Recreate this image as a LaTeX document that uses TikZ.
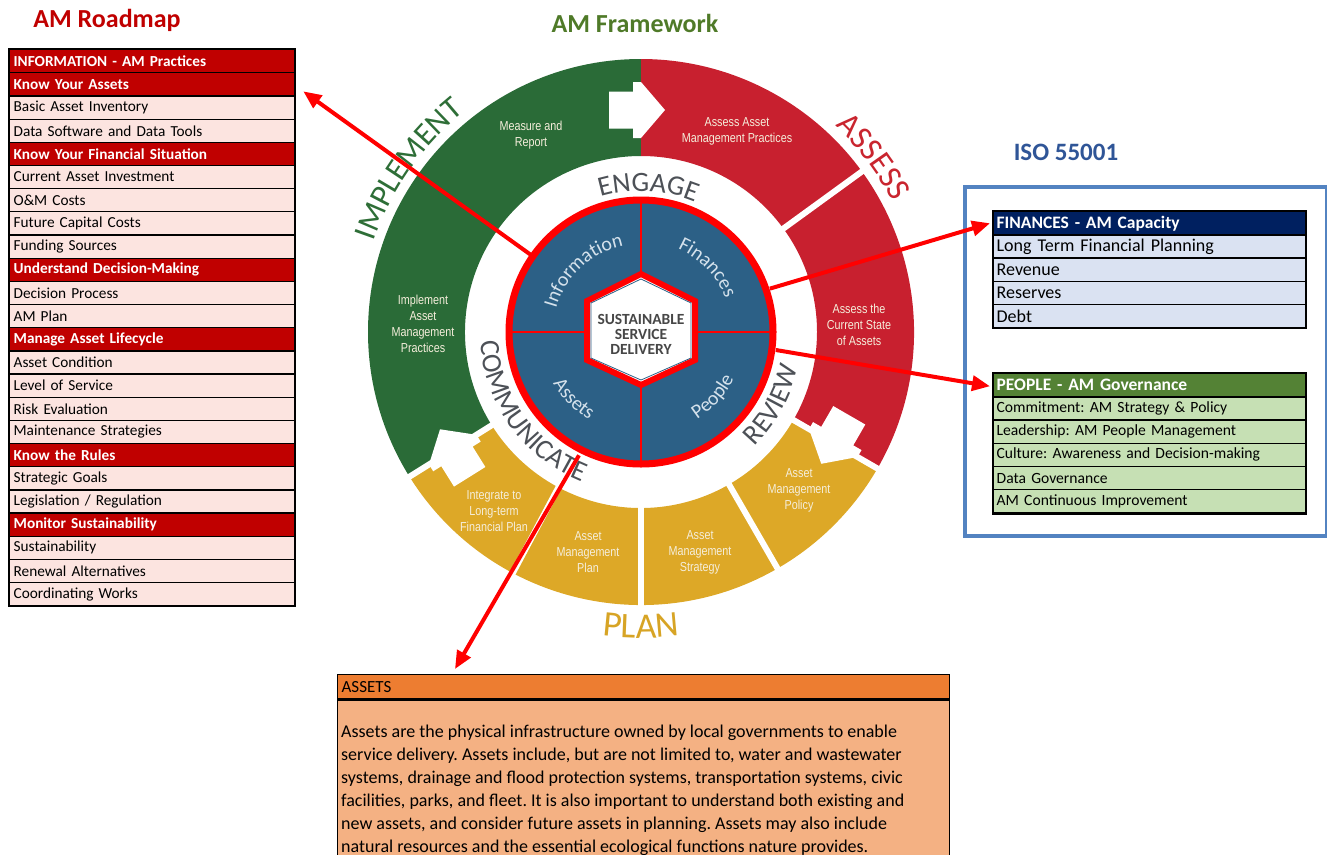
\documentclass[tikz,border=0pt]{standalone}
\usepackage{fontspec}
\setmainfont{Carlito}
\newfontfamily\narrowfont{Liberation Sans}[FakeStretch=0.83]
\usetikzlibrary{arrows.meta,calc,decorations.text}
\frenchspacing

\definecolor{wgreen}{HTML}{2A6B37}
\definecolor{wred}{HTML}{C8202F}
\definecolor{wyellow}{HTML}{DDA827}
\definecolor{wblue}{HTML}{2C6086}
\definecolor{ringgray}{HTML}{4D5157}
\definecolor{impgreen}{HTML}{2E6E37}
\definecolor{assred}{HTML}{C9252F}
\definecolor{plangold}{HTML}{D7A425}
\definecolor{segtext}{HTML}{F5EEDB}
\definecolor{quadtext}{HTML}{D5E2EC}
\definecolor{ssdtext}{HTML}{474747}
\definecolor{roadhead}{HTML}{C00000}
\definecolor{roaditem}{HTML}{FCE4E0}
\definecolor{finhead}{HTML}{002060}
\definecolor{finitem}{HTML}{DAE2F2}
\definecolor{peohead}{HTML}{548235}
\definecolor{peoitem}{HTML}{C6E0B4}
\definecolor{isoblue}{HTML}{5383C1}
\definecolor{isotitle}{HTML}{2F5597}
\definecolor{asshead}{HTML}{ED7D31}
\definecolor{assbody}{HTML}{F4B183}
\definecolor{roadtitle}{HTML}{C00000}
\definecolor{frametitle}{HTML}{4F7A28}

\newcommand\ringfont{\fontsize{28}{30}\selectfont}
\newcommand\phasefont{\fontsize{32}{34}\selectfont}
\newcommand\quadfont{\fontsize{20}{22}\selectfont}

\begin{document}
\begin{tikzpicture}[x=1pt,y=1pt,
  tcell/.style={draw=black, line width=1.3pt, anchor=north west,
    minimum height=23.17pt, inner ysep=0pt, align=left},
  cellL/.style={tcell, minimum width=285pt, text width=277pt, inner xsep=4pt},
  cellR/.style={tcell, minimum width=312pt, text width=306pt, inner xsep=3pt, minimum height=23.2pt},
  seglabel/.style={text=segtext, font=\narrowfont\fontsize{13}{16}\selectfont,
    align=center, inner sep=0pt},
  arctext/.style n args={3}{decorate, decoration={text along path,
    text align=center, text={|#1\color{#2}|#3}}},
  redarrow/.style={draw=red, line width=4pt,
    -{Triangle[length=18pt,width=15pt]}},
  whitearrow/.style={fill=white},
  ttl/.style={font=\fontsize{26}{28}\selectfont\bfseries}
]
\useasboundingbox (0,0) rectangle (1327,-854);
\clip (0,0) rectangle (1327,-854);

% ---------- titles ----------
\node[ttl, text=roadtitle] (tRoad) at (107,-20) {AM Roadmap};
\node[ttl, text=frametitle] (tFrame) at (635,-23) {AM Framework};
\node[font=\fontsize{25}{27}\selectfont\bfseries, text=isotitle] (tIso) at (1066,-152) {ISO 55001};

% ---------- wheel ----------
\coordinate (hub) at (641,-332);
\begin{scope}[shift={(641,-332)}]
  % outer phase ring
  \fill[wgreen] (90:273) arc[start angle=90,end angle=212,radius=273pt]
     -- (212:176) arc[start angle=212,end angle=90,radius=176pt] -- cycle;
  \fill[wred] (-30:273) arc[start angle=-30,end angle=90,radius=273pt]
     -- (90:176) arc[start angle=90,end angle=-30,radius=176pt] -- cycle;
  \fill[wyellow] (212:273) arc[start angle=212,end angle=330,radius=273pt]
     -- (330:176) arc[start angle=330,end angle=212,radius=176pt] -- cycle;
  % white separators between segments
  \foreach \a in {36,-30,-60,-90,-118,212}
    \draw[white, line width=6pt] (\a:170) -- (\a:280);
  % flow arrows between phases
  \foreach \a in {90,-30,212}
    \fill[whitearrow, shift={(\a:222)}, rotate=\a-90]
      (-32,-18.5) -- (-8,-18.5) -- (-8,-28) -- (0,-28) -- (24,0)
      -- (0,28) -- (-8,28) -- (-8,18.5) -- (-32,18.5) -- cycle;

  % phase names
  \path[arctext={\phasefont}{impgreen}{IMPLEMENT}]
    (180:282) arc[start angle=180,end angle=110,radius=282pt];
  \path[arctext={\fontsize{33}{35}\selectfont}{assred}{ASSESS}]
    (70:283) arc[start angle=70,end angle=4,radius=283pt];
  \path[arctext={\fontsize{36}{38}\selectfont}{plangold}{PLAN}]
    (-115:306) arc[start angle=-115,end angle=-65,radius=306pt];

  % engagement ring words
  \path[arctext={\ringfont}{ringgray}{ENGAGE}]
    (117:141) arc[start angle=117,end angle=57,radius=141pt];
  \path[arctext={\ringfont}{ringgray}{REVIEW}]
    (-59:161) arc[start angle=-59,end angle=1,radius=161pt];
  \path[arctext={\ringfont}{ringgray}{COMMUNICATE}]
    (176:161) arc[start angle=176,end angle=256,radius=161pt];

  % inner disc with four quadrants
  \fill[wblue] (0,0) circle[radius=132pt];
  \draw[red, line width=2pt] (-132,0) -- (132,0) (0,-132) -- (0,132);
  \path[arctext={\quadfont}{quadtext}{Information}]
    (178:88) arc[start angle=178,end angle=88,radius=88pt];
  \path[arctext={\quadfont}{quadtext}{Finances}]
    (89:91) arc[start angle=89,end angle=-1,radius=91pt];
  \path[arctext={\quadfont}{quadtext}{Assets}]
    (180:102) arc[start angle=180,end angle=270,radius=102pt];
  \path[arctext={\quadfont}{quadtext}{People}]
    (-87:104) arc[start angle=-87,end angle=3,radius=104pt];

  % central hexagon
  \filldraw[fill=white, draw=red, line width=6pt, line join=miter]
    (0,58) -- (54,31) -- (54,-28) -- (0,-53) -- (-54,-28) -- (-54,31) -- cycle;
  \draw[wblue, line width=0.8pt]
    (0,53) -- (50,29) -- (50,-26) -- (0,-48) -- (-50,-26) -- (-50,29) -- cycle;
  \node[font=\fontsize{15.5}{15}\selectfont\bfseries, text=ssdtext, align=center,
    inner sep=0pt] (ssd) at (0,-2.5) {SUSTAINABLE\\SERVICE\\DELIVERY};

  \draw[red, line width=7pt] (0,0) circle[radius=132pt];
\end{scope}

% segment captions
\node[seglabel] (sMeasure) at (531,-135) {Measure and\\Report};
\node[seglabel] (sAssessPr) at (737,-131) {Assess Asset\\Management Practices};
\node[seglabel] (sCurrent) at (859,-325) {Assess the\\Current State\\of Assets};
\node[seglabel] (sImpl) at (423,-324) {Implement\\Asset\\Management\\Practices};
\node[seglabel] (sPolicy) at (799,-490) {Asset\\Management\\Policy};
\node[seglabel] (sStrategy) at (700,-552) {Asset\\Management\\Strategy};
\node[seglabel] (sPlan) at (588,-552) {Asset\\Management\\Plan};
\node[seglabel] (sIntegrate) at (494,-511) {Integrate to\\Long-term\\Financial Plan};

% ---------- AM Roadmap table ----------
\foreach \txt/\bg/\fg/\wt [count=\i from 0] in {
  {INFORMATION - AM Practices}/roadhead/white/\bfseries,
  {Know Your Assets}/roadhead/white/\bfseries,
  {Basic Asset Inventory}/roaditem/black/\mdseries,
  {Data Software and Data Tools}/roaditem/black/\mdseries,
  {Know Your Financial Situation}/roadhead/white/\bfseries,
  {Current Asset Investment}/roaditem/black/\mdseries,
  {O\&M Costs}/roaditem/black/\mdseries,
  {Future Capital Costs}/roaditem/black/\mdseries,
  {Funding Sources}/roaditem/black/\mdseries,
  {Understand Decision-Making}/roadhead/white/\bfseries,
  {Decision Process}/roaditem/black/\mdseries,
  {AM Plan}/roaditem/black/\mdseries,
  {Manage Asset Lifecycle}/roadhead/white/\bfseries,
  {Asset Condition}/roaditem/black/\mdseries,
  {Level of Service}/roaditem/black/\mdseries,
  {Risk Evaluation}/roaditem/black/\mdseries,
  {Maintenance Strategies}/roaditem/black/\mdseries,
  {Know the Rules}/roadhead/white/\bfseries,
  {Strategic Goals}/roaditem/black/\mdseries,
  {Legislation / Regulation}/roaditem/black/\mdseries,
  {Monitor Sustainability}/roadhead/white/\bfseries,
  {Sustainability}/roaditem/black/\mdseries,
  {Renewal Alternatives}/roaditem/black/\mdseries,
  {Coordinating Works}/roaditem/black/\mdseries}
  \node[cellL, fill=\bg, text=\fg, font=\fontsize{15.3}{17}\selectfont\wt]
    (r\i) at (9,{-49-23.17*\i}) {\txt};
\draw[line width=2pt] (r0.north west) rectangle (r23.south east);

% ---------- ISO 55001 ----------
\node[draw=isoblue, line width=4pt, minimum width=362pt, minimum height=349pt,
  anchor=north west, inner sep=0pt] (iso) at (963,-185) {};

\node[cellR, fill=finhead, text=white, font=\fontsize{17.5}{19}\selectfont\bfseries]
  (f0) at (993,-211) {FINANCES - AM Capacity};
\foreach \txt [count=\i] in {Long Term Financial Planning, Revenue, Reserves, Debt}
  \node[cellR, fill=finitem, font=\fontsize{18}{20}\selectfont]
    (f\i) at (993,{-211-23.2*\i}) {\txt};
\draw[line width=2pt] (f0.north west) rectangle (f4.south east);

\node[cellR, fill=peohead, text=white, font=\fontsize{17.5}{19}\selectfont\bfseries]
  (p0) at (993,-373) {PEOPLE - AM Governance};
\foreach \txt [count=\i] in {Commitment: AM Strategy \& Policy,
  Leadership: AM People Management, Culture: Awareness and Decision-making,
  Data Governance, AM Continuous Improvement}
  \node[cellR, fill=peoitem, font=\fontsize{15.6}{17}\selectfont]
    (p\i) at (993,{-373-23.2*\i}) {\txt};
\draw[line width=2pt] (p0.north west) rectangle (p5.south east);

% ---------- ASSETS note ----------
\node[draw=black, line width=1.3pt, fill=asshead, minimum width=612pt,
  minimum height=24pt, text width=604pt, inner xsep=4pt, inner ysep=0pt,
  anchor=north west, font=\fontsize{17}{19}\selectfont] (ahead) at (337,-674) {ASSETS};
\node[draw=black, line width=1.3pt, fill=assbody, minimum width=612pt,
  minimum height=200pt, anchor=north west, inner sep=0pt] (abody) at (ahead.south west) {};
\node[anchor=north west, inner sep=0pt, align=left,
  font=\fontsize{18}{23}\selectfont] (atext) at (341,-725)
  {Assets are the physical infrastructure owned by local governments to enable\\
   service delivery. Assets include, but are not limited to, water and wastewater\\
   systems, drainage and flood protection systems, transportation systems, civic\\
   facilities, parks, and fleet. It is also important to understand both existing and\\
   new assets, and consider future assets in planning. Assets may also include\\
   natural resources and the essential ecological functions nature provides.};

% ---------- links from the wheel ----------
\coordinate (cInfo) at ($(hub)+(145:134)$);
\coordinate (tipRoad) at ($(r2.north east)+(8,4)$);
\coordinate (cFin) at ($(hub)+(18.6:136)$);
\coordinate (tipFin) at ($(f0.west)+(-3,0)$);
\coordinate (cPeo) at ($(hub)+(-7.6:136)$);
\coordinate (tipPeo) at ($(p0.west)+(-3,-1)$);
\coordinate (cAss) at ($(hub)+(-116.7:138)$);
\coordinate (tipAss) at ($(ahead.north west)+(118,5)$);
\draw[redarrow] (cInfo) -- (tipRoad);
\draw[redarrow] (cFin) -- (tipFin);
\draw[redarrow] (cPeo) -- (tipPeo);
\draw[redarrow] (cAss) -- (tipAss);
\end{tikzpicture}
\end{document}
